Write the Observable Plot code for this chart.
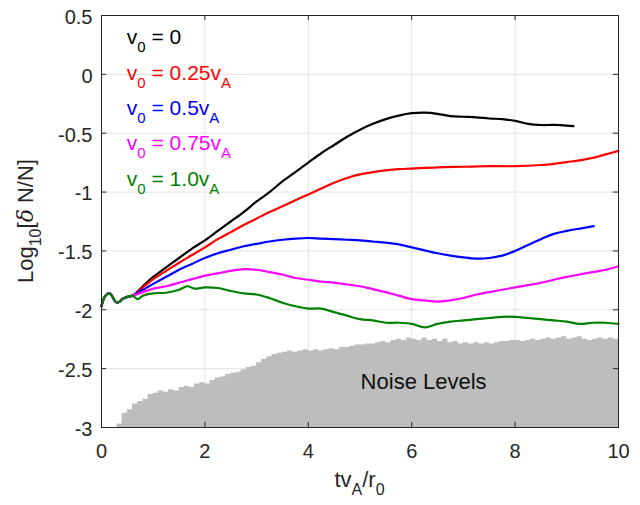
<!DOCTYPE html>
<html>
<head>
<meta charset="utf-8">
<script src="https://cdn.jsdelivr.net/npm/d3@7"></script>
<script src="https://cdn.jsdelivr.net/npm/@observablehq/plot@0.6"></script>
<style>
  html, body { margin: 0; padding: 0; background: #fff; }
  #chart { width: 640px; height: 505px; }
  svg { font-family: "Liberation Sans", Arial, sans-serif; }
</style>
</head>
<body>
<div id="chart"></div>
<script>
// ---- data ----
const startX = [0, 0.05, 0.1, 0.15, 0.2, 0.25, 0.3, 0.35, 0.4, 0.5, 0.6];
const startY = [-1.97, -1.90, -1.87, -1.86, -1.88, -1.92, -1.94, -1.93, -1.91, -1.89, -1.88];

const blackX = [0.8, 1.0, 1.25, 1.5, 1.75, 2, 2.25, 2.5, 2.75, 3, 3.25, 3.5, 3.75, 4, 4.25, 4.5, 4.75, 5, 5.25, 5.5, 5.75, 6, 6.25, 6.5, 6.75, 7, 7.25, 7.5, 7.75, 8, 8.25, 8.5, 8.75, 9, 9.13];
const blackY = [-1.80, -1.72, -1.64, -1.56, -1.48, -1.41, -1.33, -1.25, -1.17, -1.08, -1.00, -0.91, -0.83, -0.75, -0.67, -0.60, -0.53, -0.47, -0.42, -0.38, -0.35, -0.33, -0.325, -0.335, -0.355, -0.36, -0.365, -0.375, -0.38, -0.395, -0.42, -0.43, -0.43, -0.435, -0.44];

const redX = [0.8, 1.0, 1.25, 1.5, 1.75, 2, 2.25, 2.5, 2.75, 3, 3.25, 3.5, 3.75, 4, 4.25, 4.5, 4.75, 5, 5.25, 5.5, 5.75, 6, 6.5, 7, 7.5, 8, 8.5, 8.75, 9, 9.25, 9.5, 9.75, 10];
const redY = [-1.81, -1.74, -1.67, -1.60, -1.535, -1.47, -1.40, -1.34, -1.28, -1.225, -1.17, -1.12, -1.07, -1.02, -0.97, -0.92, -0.88, -0.85, -0.83, -0.815, -0.805, -0.80, -0.79, -0.785, -0.78, -0.78, -0.77, -0.76, -0.745, -0.73, -0.71, -0.68, -0.65];

const blueX = [0.8, 1.0, 1.25, 1.5, 1.75, 2, 2.25, 2.5, 2.75, 3, 3.25, 3.5, 3.75, 4, 4.25, 4.5, 4.75, 5, 5.25, 5.5, 5.75, 6, 6.25, 6.5, 6.75, 7, 7.25, 7.5, 7.75, 8, 8.25, 8.5, 8.75, 9, 9.25, 9.52];
const blueY = [-1.83, -1.78, -1.72, -1.66, -1.61, -1.56, -1.52, -1.49, -1.46, -1.44, -1.42, -1.405, -1.395, -1.39, -1.395, -1.40, -1.405, -1.41, -1.42, -1.43, -1.445, -1.47, -1.495, -1.52, -1.54, -1.555, -1.565, -1.56, -1.54, -1.50, -1.45, -1.40, -1.355, -1.33, -1.31, -1.29];

const magentaX = [0.8, 1.0, 1.25, 1.5, 1.75, 2, 2.25, 2.5, 2.75, 3, 3.25, 3.5, 3.75, 4, 4.25, 4.5, 4.75, 5, 5.25, 5.5, 5.75, 6, 6.25, 6.5, 6.75, 7, 7.25, 7.5, 7.75, 8, 8.25, 8.5, 8.75, 9, 9.25, 9.5, 9.75, 10];
const magentaY = [-1.85, -1.82, -1.80, -1.77, -1.74, -1.71, -1.69, -1.67, -1.655, -1.66, -1.68, -1.70, -1.73, -1.745, -1.76, -1.77, -1.785, -1.80, -1.825, -1.85, -1.88, -1.91, -1.92, -1.93, -1.92, -1.90, -1.87, -1.85, -1.83, -1.81, -1.79, -1.77, -1.745, -1.72, -1.70, -1.68, -1.66, -1.63];

const greenX = [0.7, 0.8, 1.0, 1.25, 1.5, 1.66, 1.8, 2, 2.25, 2.5, 2.75, 3, 3.25, 3.5, 3.75, 4, 4.25, 4.5, 4.75, 5, 5.25, 5.5, 5.75, 6, 6.25, 6.5, 6.75, 7, 7.25, 7.5, 7.75, 8, 8.25, 8.5, 8.75, 9, 9.25, 9.5, 9.75, 10];
const greenY = [-1.91, -1.88, -1.86, -1.855, -1.83, -1.80, -1.82, -1.81, -1.815, -1.84, -1.86, -1.87, -1.90, -1.94, -1.97, -1.99, -1.99, -2.02, -2.05, -2.08, -2.09, -2.11, -2.11, -2.12, -2.15, -2.12, -2.10, -2.09, -2.08, -2.07, -2.06, -2.06, -2.07, -2.08, -2.09, -2.10, -2.12, -2.11, -2.11, -2.12];

const noiseX = [0.3,0.4,0.5,0.6,0.7,0.8,0.9,1.0,1.1,1.2,1.3,1.4,1.5,1.6,1.7,1.8,1.9,2.0,2.1,2.2,2.3,2.4,2.5,2.6,2.7,2.8,2.9,3.0,3.1,3.2,3.3,3.4,3.5,3.6,3.7,3.8,3.9,4.0,4.1,4.2,4.3,4.4,4.5,4.6,4.7,4.8,4.9,5.0,5.1,5.2,5.3,5.4,5.5,5.6,5.7,5.8,5.9,6.0,6.1,6.2,6.3,6.4,6.5,6.6,6.7,6.8,6.9,7.0,7.1,7.2,7.3,7.4,7.5,7.6,7.7,7.8,7.9,8.0,8.1,8.2,8.3,8.4,8.5,8.6,8.7,8.8,8.9,9.0,9.1,9.2,9.3,9.4,9.5,9.6,9.7,9.8,9.9,10.0];
const noiseY = [-2.97,-2.88,-2.85,-2.80,-2.78,-2.76,-2.72,-2.71,-2.69,-2.70,-2.68,-2.69,-2.66,-2.65,-2.66,-2.63,-2.62,-2.63,-2.60,-2.58,-2.57,-2.55,-2.54,-2.53,-2.51,-2.49,-2.48,-2.45,-2.42,-2.40,-2.38,-2.37,-2.36,-2.35,-2.36,-2.35,-2.34,-2.35,-2.34,-2.35,-2.34,-2.33,-2.34,-2.32,-2.32,-2.31,-2.30,-2.30,-2.29,-2.29,-2.28,-2.27,-2.28,-2.26,-2.25,-2.26,-2.24,-2.25,-2.26,-2.24,-2.26,-2.25,-2.27,-2.25,-2.28,-2.27,-2.29,-2.28,-2.29,-2.28,-2.29,-2.28,-2.29,-2.28,-2.27,-2.27,-2.26,-2.26,-2.27,-2.26,-2.25,-2.26,-2.25,-2.24,-2.25,-2.24,-2.23,-2.25,-2.24,-2.23,-2.25,-2.26,-2.25,-2.24,-2.25,-2.24,-2.25,-2.26];

const seriesNames = ["0", "0.25", "0.5", "0.75", "1.0"];
const seriesColors = ["#000000", "#ff0000", "#0000ff", "#ff00ff", "#008000"];
const legendSuffixA = [false, true, true, true, true];

const xTicks = [0, 2, 4, 6, 8, 10];
const yTicks = [-3, -2.5, -2, -1.5, -1, -0.5, 0, 0.5];

// ---- build tables ----
const seriesXs = [blackX, redX, blueX, magentaX, greenX];
const seriesYs = [blackY, redY, blueY, magentaY, greenY];
const lines = [];
seriesNames.forEach((name, i) => {
  startX.forEach((x, j) => lines.push({series: name, x, y: startY[j]}));
  seriesXs[i].forEach((x, j) => lines.push({series: name, x, y: seriesYs[i][j]}));
});
const noise = noiseX.map((x, i) => ({x, y: noiseY[i]}));

const axisColor = "#262626";
const fontFamily = '"Liberation Sans", Arial, sans-serif';

const chart = Plot.plot({
  width: 640,
  height: 505,
  marginLeft: 101,
  marginRight: 22,
  marginTop: 15,
  marginBottom: 78,
  style: {fontFamily, fontSize: "20px", color: axisColor, background: "#fff"},
  x: {domain: [0, 10], ticks: xTicks},
  y: {domain: [-3, 0.5], ticks: yTicks},
  color: {domain: seriesNames, range: seriesColors},
  marks: [
    Plot.gridX(xTicks, {stroke: "#e3e3e3", strokeOpacity: 1, strokeWidth: 1}),
    Plot.gridY(yTicks, {stroke: "#e3e3e3", strokeOpacity: 1, strokeWidth: 1}),
    Plot.areaY(noise, {x: "x", y1: -3, y2: "y", curve: "step-after", fill: "#bdbdbd"}),
    Plot.text(["Noise Levels"], {x: 6.23, y: -2.615, text: d => d, fontSize: 22, fill: "#111", fontFamily}),
    Plot.line(lines, {x: "x", y: "y", z: "series", stroke: "series", strokeWidth: 2.2, curve: "catmull-rom"}),
    // inward ticks
    Plot.ruleX(xTicks, {x: d => d, y1: -3, y2: -2.957, stroke: axisColor}),
    Plot.ruleX(xTicks, {x: d => d, y1: 0.5, y2: 0.457, stroke: axisColor}),
    Plot.ruleY(yTicks, {y: d => d, x1: 0, x2: 0.1, stroke: axisColor}),
    Plot.ruleY(yTicks, {y: d => d, x1: 10, x2: 9.9, stroke: axisColor}),
    Plot.axisX({ticks: xTicks, tickSize: 0, tickPadding: 16, label: null, tickFormat: d => String(d), fill: axisColor}),
    Plot.axisY({ticks: yTicks, tickSize: 0, tickPadding: 9, label: null, tickFormat: d => String(d), fill: axisColor, dy: 2}),
    Plot.frame({stroke: axisColor, strokeWidth: 1})
  ]
});
document.getElementById("chart").appendChild(chart);

// ---- annotations with subscripts ----
const svg = d3.select(chart);
const sx = chart.scale("x"), sy = chart.scale("y");

// legend
seriesNames.forEach((name, i) => {
  const t = svg.append("text")
    .attr("x", sx.apply(0.5))
    .attr("y", sy.apply(0.25 - 0.3 * i))
    .attr("text-anchor", "start")
    .attr("fill", seriesColors[i])
    .style("font-family", fontFamily)
    .style("font-size", "21px");
  t.append("tspan").text("v");
  t.append("tspan").attr("dy", 8).style("font-size", "15px").text("0");
  t.append("tspan").attr("dy", -8).text(" = " + (i === 0 ? "0" : name + "v"));
  if (legendSuffixA[i]) t.append("tspan").attr("dy", 8).style("font-size", "15px").text("A");
});

// x label
const xl = svg.append("text")
  .attr("x", (sx.range[0] + sx.range[1]) / 2)
  .attr("y", 487)
  .attr("text-anchor", "middle")
  .attr("fill", axisColor)
  .style("font-family", fontFamily)
  .style("font-size", "22px");
xl.append("tspan").text("tv");
xl.append("tspan").attr("dy", 8).style("font-size", "16px").text("A");
xl.append("tspan").attr("dy", -8).text("/r");
xl.append("tspan").attr("dy", 8).style("font-size", "16px").text("0");

// y label
const yc = (sy.range[0] + sy.range[1]) / 2;
const yl = svg.append("text")
  .attr("transform", `translate(33,${yc}) rotate(-90)`)
  .attr("text-anchor", "middle")
  .attr("fill", axisColor)
  .style("font-family", fontFamily)
  .style("font-size", "22px");
yl.append("tspan").text("Log");
yl.append("tspan").attr("dy", 8).style("font-size", "16px").text("10");
yl.append("tspan").attr("dy", -8).text("[");
yl.append("tspan").style("font-style", "italic").style("font-family", '"DejaVu Serif", serif').text("δ");
yl.append("tspan").text(" N/N]");
</script>
</body>
</html>
